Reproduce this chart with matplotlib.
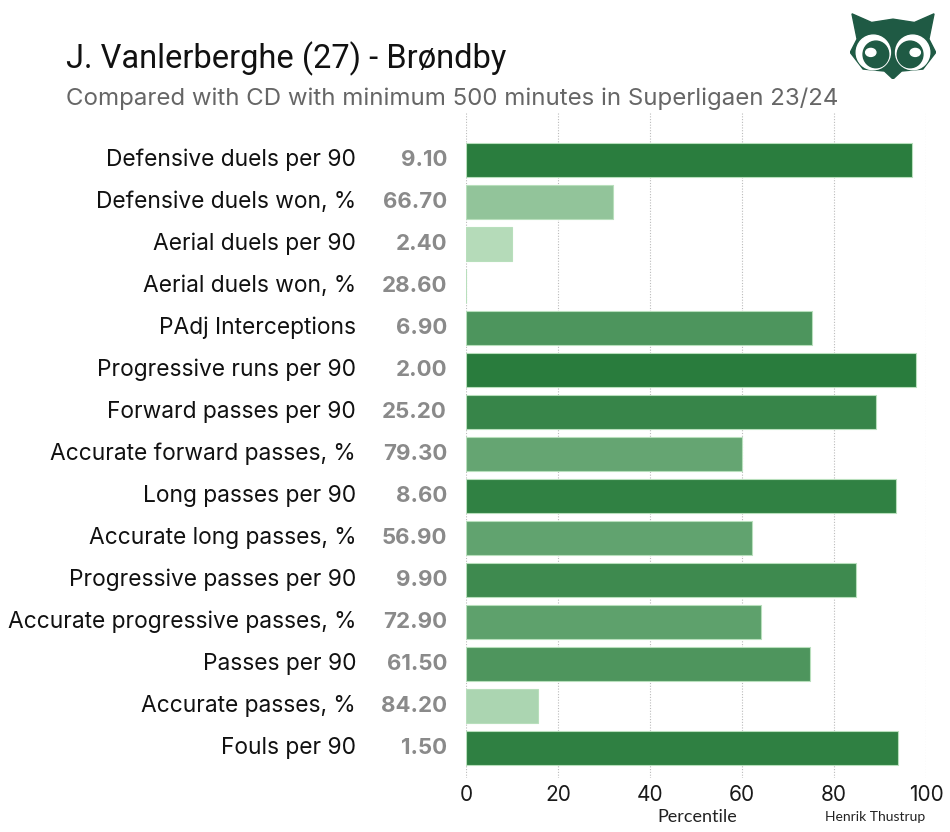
import matplotlib.pyplot as plt
import numpy as np
from matplotlib.colors import LinearSegmentedColormap
from matplotlib.patches import Polygon, Circle, Ellipse

labels = ["Defensive duels per 90", "Defensive duels won, %", "Aerial duels per 90",
          "Aerial duels won, %", "PAdj Interceptions", "Progressive runs per 90",
          "Forward passes per 90", "Accurate forward passes, %", "Long passes per 90",
          "Accurate long passes, %", "Progressive passes per 90",
          "Accurate progressive passes, %", "Passes per 90", "Accurate passes, %",
          "Fouls per 90"]
values = ["9.10", "66.70", "2.40", "28.60", "6.90", "2.00", "25.20", "79.30",
          "8.60", "56.90", "9.90", "72.90", "61.50", "84.20", "1.50"]
percentile = [97.0, 32.0, 10.0, 0.0, 75.2, 97.8, 89.1, 60.0, 93.5, 62.2,
              84.8, 64.1, 74.8, 15.7, 93.9]

cmap = LinearSegmentedColormap.from_list("grn", ["#c4e6c7", "#267a3a"])
colors = [cmap(p / 100) for p in percentile]

fig = plt.figure(figsize=(9.5, 8.32), dpi=100)
ax = fig.add_axes([0.4905, 0.0649, 0.4842, 0.7993])

y = np.arange(len(labels))
ax.barh(y, percentile, height=0.8, color=colors, edgecolor="#b8dfbc", linewidth=0.8, zorder=2)

for xg in [0, 20, 40, 60, 80, 100]:
    ax.axvline(xg, color="#bbbbbb", linestyle=(0, (1, 1.5)), linewidth=0.8, zorder=1)

for i in range(len(labels)):
    ax.text(-23.9, i, labels[i], ha="right", va="center", fontsize=16.4,
            family="Inter", color="#111111", clip_on=False)
    ax.text(-4.1, i, values[i], ha="right", va="center", fontsize=16,
            family="Inter", fontweight="bold", color="#8a8a8a", clip_on=False)

ax.set_xlim(0, 100)
ax.set_ylim(14.71, -1.12)
ax.set_yticks([])
ax.set_xticks([0, 20, 40, 60, 80, 100])
ax.tick_params(axis="x", length=0, pad=5, labelsize=15, labelcolor="#1a1a1a")
for lab in ax.get_xticklabels():
    lab.set_family("Inter")
for s in ax.spines.values():
    s.set_visible(False)

fig.text(0.0695, 0.930, "J. Vanlerberghe (27) - Brøndby", fontsize=23.5,
         family="Roboto", color="#111111", va="center")
fig.text(0.0695, 0.881, "Compared with CD with minimum 500 minutes in Superligaen 23/24",
         fontsize=17.3, family="Inter", color="#666666", va="center")
fig.text(0.7337, 0.018, "Percentile", fontsize=13, family="Lato",
         color="#222222", ha="center", va="center")
fig.text(0.921, 0.018, "Henrik Thustrup", fontsize=10, family="Lato",
         color="#222222", ha="center", va="center")

# owl logo
lg = fig.add_axes([0.895, 0.905, 0.09, 0.08])
lg.set_xlim(0, 1)
lg.set_ylim(0, 1)
lg.axis("off")
owl = "#1f5a44"
head = [(0.02, 0.98), (0.25, 0.85), (0.50, 0.90), (0.75, 0.85), (0.98, 0.98),
        (0.92, 0.60), (1.0, 0.40), (0.85, 0.15), (0.60, 0.12), (0.50, 0.0),
        (0.40, 0.12), (0.15, 0.15), (0.0, 0.40), (0.08, 0.60)]
lg.add_patch(Polygon(head, closed=True, color=owl))
for cx in [0.27, 0.73]:
    lg.add_patch(Ellipse((cx, 0.40), 0.40, 0.52, color="white"))
    lg.add_patch(Ellipse((cx + (0.03 if cx < 0.5 else -0.03), 0.37), 0.30, 0.40, color=owl))
    lg.add_patch(Circle((cx - 0.03 if cx < 0.5 else cx + 0.03, 0.40), 0.06, color="white"))

fig.savefig("out.png", dpi=100, facecolor="white")
